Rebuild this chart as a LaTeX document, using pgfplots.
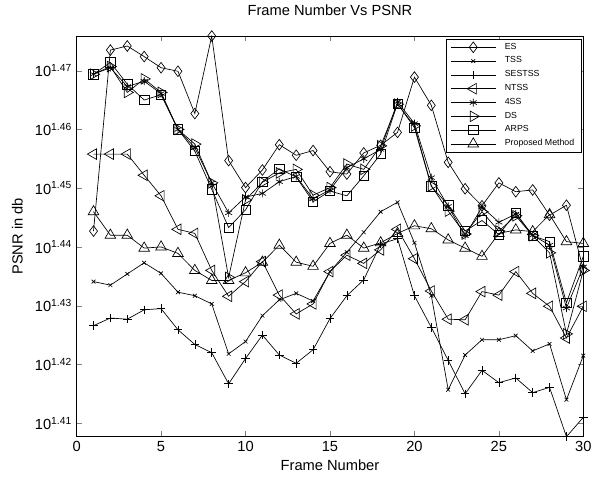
\documentclass[border=0pt]{standalone}
\usepackage{fontspec}
\setmainfont{Liberation Sans}
\usepackage{pgfplots}
\pgfplotsset{compat=1.18}
\begin{document}
\begin{tikzpicture}
\begin{axis}[
  scale only axis, width=380pt, height=300.5pt,
  xmin=0, xmax=30, ymin=1.4077, ymax=1.4759,
  xtick={0,5,10,15,20,25,30},
  ytick={1.41,1.42,1.43,1.44,1.45,1.46,1.47},
  yticklabels={10\textsuperscript{1.41},10\textsuperscript{1.42},10\textsuperscript{1.43},10\textsuperscript{1.44},10\textsuperscript{1.45},10\textsuperscript{1.46},10\textsuperscript{1.47}},
  tick align=inside, major tick length=4pt,
  /pgf/number format/assume math mode=true,
  tick label style={font=\fontsize{11}{13}\selectfont},
  axis line style={line width=0.6pt},
  title={Frame Number Vs PSNR},
  title style={at={(axis description cs:0.5,1.03)}, anchor=base, font=\fontsize{11}{13}\selectfont},
  xlabel={Frame Number},
  xlabel style={at={(axis description cs:0.5,-0.0849)}, anchor=base, font=\fontsize{11}{13}\selectfont},
  ylabel={PSNR in db},
  ylabel style={at={(axis description cs:-0.1066,0.5)}, anchor=base, rotate=0, font=\fontsize{11}{13}\selectfont},
  every axis plot/.append style={black, line width=0.5pt, mark options={solid, line width=0.5pt}},
  legend image code/.code={\draw[mark repeat=2,mark phase=2,#1] plot coordinates {(0pt,0pt) (16.9pt,0pt) (33.8pt,0pt)};},
  legend style={at={(0.9974,0.9933)}, anchor=north east, draw=black, line width=0.6pt,
    font=\fontsize{6.6}{8}\selectfont, inner xsep=3pt, inner ysep=1pt, row sep=0pt,
    /tikz/every odd column/.append style={column sep=4pt},
    cells={anchor=west}, nodes={inner ysep=0pt, inner xsep=2.5pt, text height=6.5pt, text depth=3.85pt}},
]
\addplot[mark=diamond, mark size=4pt] coordinates {
(1,1.4427)(2,1.4735)(3,1.4742)(4,1.4724)(5,1.4705)(6,1.4699)(7,1.4627)(8,1.4759)(9,1.4547)(10,1.4501)
(11,1.4531)(12,1.4574)(13,1.4556)(14,1.4564)(15,1.4528)(16,1.4524)(17,1.4560)(18,1.4573)(19,1.4595)(20,1.4689)
(21,1.4641)(22,1.4544)(23,1.4499)(24,1.4470)(25,1.4509)(26,1.4494)(27,1.4497)(28,1.4454)(29,1.4471)(30,1.4362)};
\addlegendentry{ES}
\addplot[mark=x, mark size=2pt] coordinates {
(1,1.4341)(2,1.4335)(3,1.4354)(4,1.4373)(5,1.4355)(6,1.4323)(7,1.4317)(8,1.4303)(9,1.4218)(10,1.4239)
(11,1.4283)(12,1.4310)(13,1.4321)(14,1.4308)(15,1.4358)(16,1.4391)(17,1.4425)(18,1.4460)(19,1.4476)(20,1.4407)
(21,1.4317)(22,1.4157)(23,1.4216)(24,1.4242)(25,1.4242)(26,1.4249)(27,1.4223)(28,1.4235)(29,1.4140)(30,1.4215)};
\addlegendentry{TSS}
\addplot[mark=+, mark size=3.2pt] coordinates {
(1,1.4266)(2,1.4279)(3,1.4277)(4,1.4293)(5,1.4295)(6,1.4259)(7,1.4234)(8,1.4220)(9,1.4167)(10,1.4210)
(11,1.4250)(12,1.4216)(13,1.4202)(14,1.4225)(15,1.4278)(16,1.4317)(17,1.4344)(18,1.4405)(19,1.4414)(20,1.4317)
(21,1.4263)(22,1.4207)(23,1.4150)(24,1.4190)(25,1.4169)(26,1.4177)(27,1.4152)(28,1.4161)(29,1.4077)(30,1.4110)};
\addlegendentry{SESTSS}
\addplot[mark=triangle, mark size=4.6pt, mark options={rotate=90}] coordinates {
(1,1.4558)(2,1.4558)(3,1.4558)(4,1.4522)(5,1.4487)(6,1.4430)(7,1.4423)(8,1.4360)(9,1.4316)(10,1.4341)
(11,1.4375)(12,1.4318)(13,1.4286)(14,1.4303)(15,1.4358)(16,1.4386)(17,1.4372)(18,1.4395)(19,1.4430)(20,1.4380)
(21,1.4325)(22,1.4277)(23,1.4276)(24,1.4324)(25,1.4318)(26,1.4358)(27,1.4321)(28,1.4299)(29,1.4245)(30,1.4299)};
\addlegendentry{NTSS}
\addplot[mark=asterisk, mark size=3pt] coordinates {
(1,1.4694)(2,1.4705)(3,1.4673)(4,1.4682)(5,1.4661)(6,1.4600)(7,1.4569)(8,1.4509)(9,1.4458)(10,1.4485)
(11,1.4491)(12,1.4511)(13,1.4520)(14,1.4482)(15,1.4497)(16,1.4535)(17,1.4550)(18,1.4566)(19,1.4647)(20,1.4610)
(21,1.4518)(22,1.4469)(23,1.4419)(24,1.4468)(25,1.4442)(26,1.4456)(27,1.4420)(28,1.4403)(29,1.4296)(30,1.4366)};
\addlegendentry{4SS}
\addplot[mark=triangle, mark size=4.6pt, mark options={rotate=-90}] coordinates {
(1,1.4694)(2,1.4707)(3,1.4663)(4,1.4686)(5,1.4663)(6,1.4600)(7,1.4575)(8,1.4509)(9,1.4348)(10,1.4480)
(11,1.4510)(12,1.4526)(13,1.4532)(14,1.4488)(15,1.4501)(16,1.4541)(17,1.4532)(18,1.4572)(19,1.4643)(20,1.4606)
(21,1.4504)(22,1.4461)(23,1.4422)(24,1.4460)(25,1.4427)(26,1.4453)(27,1.4419)(28,1.4390)(29,1.4252)(30,1.4360)};
\addlegendentry{DS}
\addplot[mark=square, mark size=3.5pt] coordinates {
(1,1.4694)(2,1.4714)(3,1.4677)(4,1.4650)(5,1.4659)(6,1.4600)(7,1.4563)(8,1.4498)(9,1.4433)(10,1.4463)
(11,1.4511)(12,1.4533)(13,1.4519)(14,1.4477)(15,1.4495)(16,1.4487)(17,1.4521)(18,1.4558)(19,1.4644)(20,1.4603)
(21,1.4503)(22,1.4471)(23,1.4427)(24,1.4445)(25,1.4421)(26,1.4458)(27,1.4419)(28,1.4409)(29,1.4305)(30,1.4384)};
\addlegendentry{ARPS}
\addplot[mark=triangle, mark size=4.6pt] coordinates {
(1,1.4460)(2,1.4420)(3,1.4420)(4,1.4398)(5,1.4400)(6,1.4389)(7,1.4360)(8,1.4343)(9,1.4343)(10,1.4356)
(11,1.4374)(12,1.4403)(13,1.4374)(14,1.4367)(15,1.4406)(16,1.4420)(17,1.4398)(18,1.4407)(19,1.4423)(20,1.4436)
(21,1.4431)(22,1.4412)(23,1.4398)(24,1.4384)(25,1.4423)(26,1.4429)(27,1.4426)(28,1.4455)(29,1.4409)(30,1.4406)};
\addlegendentry{Proposed Method}
\end{axis}
\pgfresetboundingbox
\path[use as bounding box] ([xshift=-57.45pt,yshift=-30.2pt]current axis.south west) rectangle ([xshift=6.5pt,yshift=27pt]current axis.north east);
\end{tikzpicture}
\end{document}
